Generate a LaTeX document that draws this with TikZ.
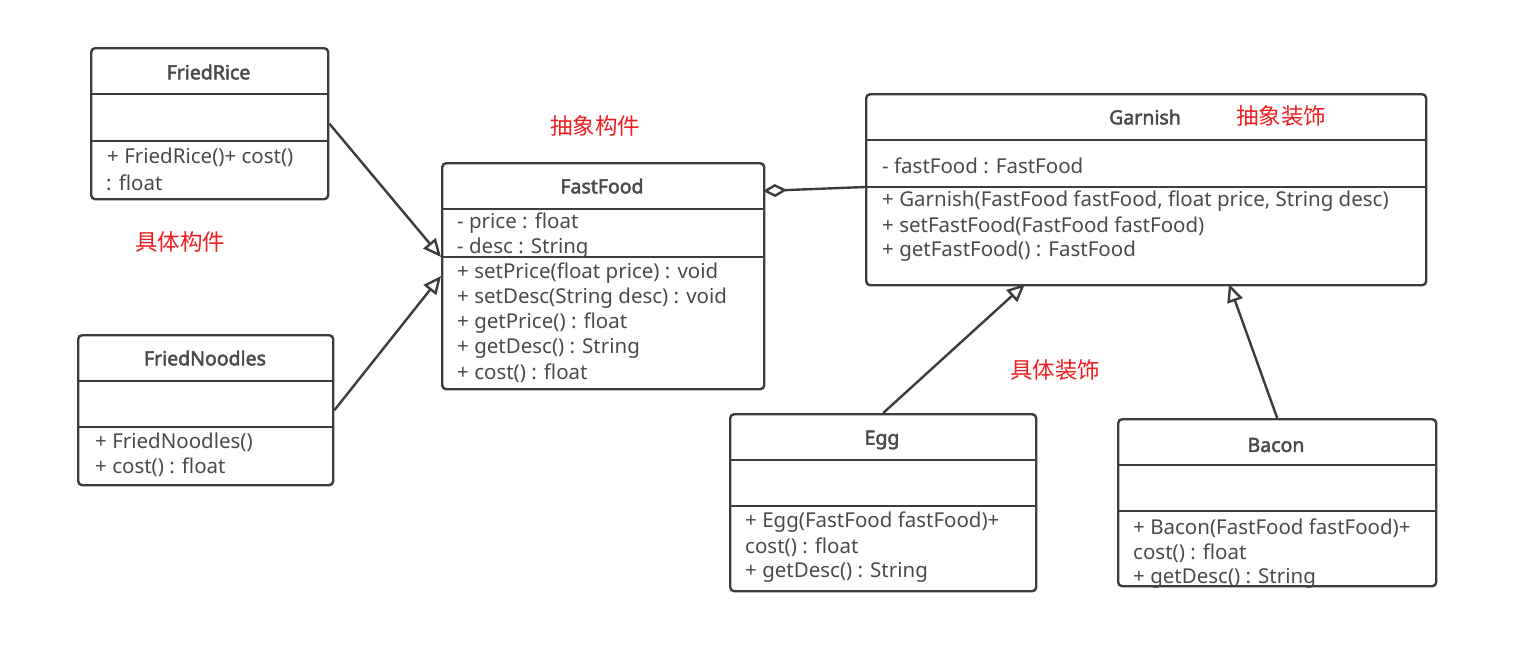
\documentclass[tikz,border=0pt]{standalone}
\usepackage{fontspec}
\setmainfont{Noto Sans}[AutoFakeBold=2.4]
\newfontfamily\cjk{Noto Sans CJK SC}
\usetikzlibrary{arrows.meta}
\definecolor{ln}{HTML}{3C3C3C}
\definecolor{tx}{HTML}{4A4A4A}
\definecolor{lab}{HTML}{F01E1E}
\begin{document}
\begin{tikzpicture}[x=1pt,y=-1pt,
  cls/.style={draw=ln, line width=2.4pt, rounded corners=4pt, inner sep=0pt, anchor=north west},
  sep/.style={draw=ln, line width=2.4pt},
  ttl/.style={font=\fontsize{19.5}{22}\selectfont\bfseries, text=tx, inner sep=0pt},
  mem/.style={font=\fontsize{20.5}{24}\selectfont, text=tx, anchor=west, inner sep=0pt, yshift=-1.5pt},
  lbl/.style={font=\cjk\fontsize{22.5}{26}\selectfont, text=lab, inner sep=0pt},
  inh/.style={draw=ln, line width=2.4pt, -{Triangle[open, length=18pt, width=16pt, fill=white]}},
  agg/.style={draw=ln, line width=2.4pt, {Diamond[open, length=24pt, width=13pt, fill=white]}-},
]
\useasboundingbox (0,0) rectangle (1526,665);

% FriedRice
\node[cls, minimum width=237pt, minimum height=151pt] (fr) at (90,47) {};
\draw[sep] (90,94) -- (327,94);
\draw[sep] (90,141) -- (327,141);
\node[ttl] (frt) at (208.5,72) {FriedRice};
\node[mem] (fr1) at (107,156) {+ FriedRice()+ cost()};
\node[mem] (fr2) at (106,181) {: float};

% FriedNoodles
\node[cls, minimum width=255pt, minimum height=150pt] (fn) at (77,334) {};
\draw[sep] (77,381) -- (332,381);
\draw[sep] (77,427) -- (332,427);
\node[ttl] (fnt) at (205,358) {FriedNoodles};
\node[mem] (fn1) at (95,441) {+ FriedNoodles()};
\node[mem] (fn2) at (95,466) {+ cost() : float};

% FastFood
\node[cls, minimum width=322pt, minimum height=226pt] (ff) at (441,162) {};
\draw[sep] (441,209) -- (763,209);
\draw[sep] (441,257) -- (763,257);
\node[ttl] (fft) at (602,186) {FastFood};
\node[mem] (ffa1) at (457,222) {- price : float};
\node[mem] (ffa2) at (457,247) {- desc : String};
\node[mem] (ffm1) at (457,272) {+ setPrice(float price) : void};
\node[mem] (ffm2) at (457,297) {+ setDesc(String desc) : void};
\node[mem] (ffm3) at (457,322) {+ getPrice() : float};
\node[mem] (ffm4) at (457,347) {+ getDesc() : String};
\node[mem] (ffm5) at (457,372) {+ cost() : float};

% Garnish
\node[cls, minimum width=560pt, minimum height=191pt] (ga) at (865,93) {};
\draw[sep] (865,140) -- (1425,140);
\draw[sep] (865,187) -- (1425,187);
\node[ttl] (gat) at (1145,117) {Garnish};
\node[mem] (gaa1) at (882,164) {- fastFood : FastFood};
\node[mem] (gam1) at (882,200) {+ Garnish(FastFood fastFood, float price, String desc)};
\node[mem] (gam2) at (882,225) {+ setFastFood(FastFood fastFood)};
\node[mem] (gam3) at (882,250) {+ getFastFood() : FastFood};

% Egg
\node[cls, minimum width=306pt, minimum height=177pt] (egg) at (729,413) {};
\draw[sep] (729,460) -- (1035,460);
\draw[sep] (729,506) -- (1035,506);
\node[ttl] (eggt) at (882,440) {Egg};
\node[mem] (egg1) at (745,521) {+ Egg(FastFood fastFood)+};
\node[mem] (egg2) at (745,546) {cost() : float};
\node[mem] (egg3) at (745,571) {+ getDesc() : String};

% Bacon
\node[cls, minimum width=318pt, minimum height=167pt] (bac) at (1117,418) {};
\draw[sep] (1117,465) -- (1435,465);
\draw[sep] (1117,511) -- (1435,511);
\node[ttl] (bact) at (1276,445) {Bacon};
\node[mem] (bac1) at (1133,527) {+ Bacon(FastFood fastFood)+};
\node[mem] (bac2) at (1133,552) {cost() : float};
\node[mem] (bac3) at (1133,577) {+ getDesc() : String};

% labels
\node[lbl] (l1) at (595,126) {抽象构件};
\node[lbl] (l2) at (180,242) {具体构件};
\node[lbl] (l3) at (1281,116) {抽象装饰};
\node[lbl] (l4) at (1055,370) {具体装饰};

% connectors
\coordinate (ff1) at (441,257);
\coordinate (ff2) at (441,276);
\coordinate (g1) at (1025,284);
\coordinate (g2) at (1229,284);
\coordinate (ffd) at (763,191);
\coordinate (gd) at (865,187);
\draw[inh] (fr.east) -- (ff1);
\draw[inh] (fn.east) -- (ff2);
\draw[inh] (egg.north) -- (g1);
\draw[inh] (bac.north) -- (g2);
\draw[agg] (ffd) -- (gd);
\end{tikzpicture}
\end{document}
